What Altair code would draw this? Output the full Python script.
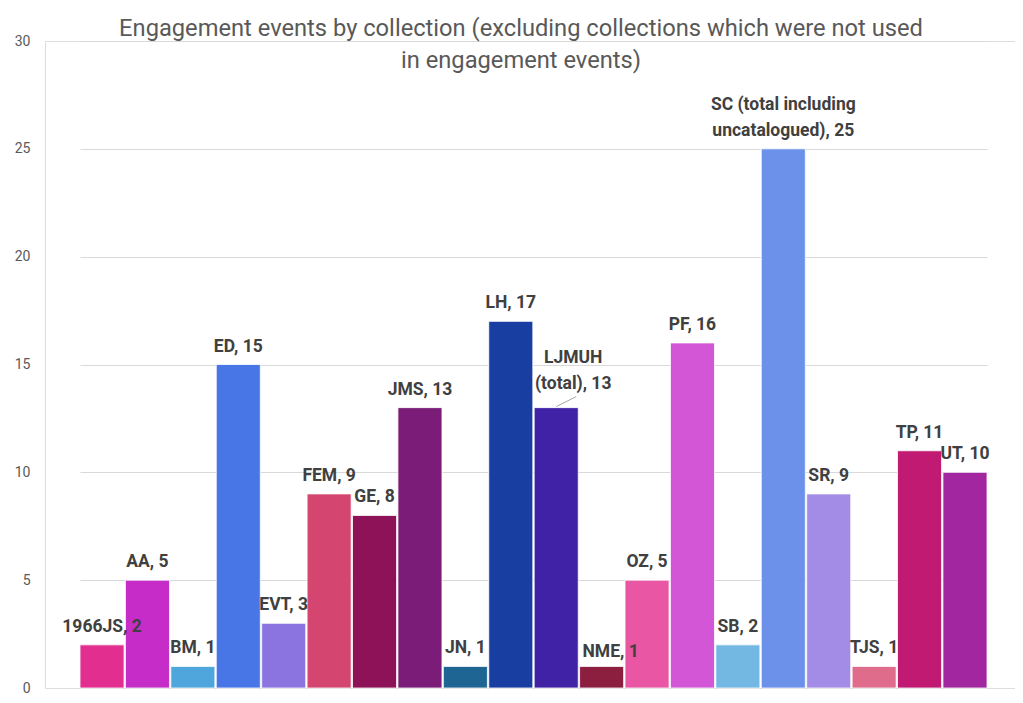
import altair as alt
import pandas as pd

categories = ["1966JS", "AA", "BM", "ED", "EVT", "FEM", "GE", "JMS", "JN", "LH",
              "LJMUH", "NME", "OZ", "PF", "SB", "SC", "SR", "TJS", "TP", "UT"]
values = [2, 5, 1, 15, 3, 9, 8, 13, 1, 17, 13, 1, 5, 16, 2, 25, 9, 1, 11, 10]
labels = ["1966JS, 2", "AA, 5", "BM, 1", "ED, 15", "EVT, 3", "FEM, 9", "GE, 8",
          "JMS, 13", "JN, 1", "LH, 17", "LJMUH\n(total), 13", "NME, 1", "OZ, 5",
          "PF, 16", "SB, 2", "SC (total including\nuncatalogued), 25", "SR, 9",
          "TJS, 1", "TP, 11", "UT, 10"]
colors = ["#E22E8F", "#C62DC8", "#4EA6DC", "#4876E6", "#8B74E0", "#D4466F",
          "#8E1257", "#7A1C78", "#1E6594", "#173EA0", "#4022A6", "#8C1E40",
          "#E957A4", "#D356D6", "#72B8E2", "#6B91EA", "#A28CE6", "#E06C8C",
          "#C11A72", "#A126A0"]
title_lines = ["Engagement events by collection (excluding collections which were not used",
               "in engagement events)"]
y_ticks = [0, 5, 10, 15, 20, 25, 30]

df = pd.DataFrame({"cat": categories, "value": values, "label": labels, "color": colors})

xenc = alt.X("cat:N", sort=categories,
             scale=alt.Scale(range=[35, 942], paddingInner=0.03, paddingOuter=0),
             axis=alt.Axis(title=None, labels=False, ticks=False, domain=True,
                           domainColor="#D9D9D9", domainWidth=1, grid=False))
yenc = alt.Y("value:Q", scale=alt.Scale(domain=[0, 30], nice=False),
             axis=alt.Axis(title=None, values=y_ticks, domain=False, ticks=False,
                           grid=True, gridColor="#D9D9D9", gridWidth=1,
                           labelColor="#595959", labelFontSize=14, labelPadding=15,
                           labelFont="Roboto"))

base = alt.Chart(df)

bars = base.mark_bar(stroke="white", strokeWidth=0.8).encode(
    x=xenc, y=yenc, color=alt.Color("color:N", scale=None)
)

label_style = dict(font="Roboto", fontSize=17.5, fontWeight="bold", color="#404040",
                   baseline="bottom", lineHeight=26, lineBreak="\n")

xs = alt.X("cat:N", sort=categories)

normal = base.transform_filter(
    "datum.cat != 'LJMUH' && datum.cat != 'NME' && datum.cat != 'SC'"
).mark_text(dy=-9, **label_style).encode(x=xs, y="value:Q", text="label:N")

sc = base.transform_filter("datum.cat == 'SC'").mark_text(
    dy=-35, **label_style).encode(x=xs, y="value:Q", text="label:N")

ljm = base.transform_filter("datum.cat == 'LJMUH'").mark_text(
    dy=-41, dx=17, **label_style).encode(x=xs, y="value:Q", text="label:N")

nme = base.transform_filter("datum.cat == 'NME'").mark_text(
    dy=-5, dx=9, **label_style).encode(x=xs, y="value:Q", text="label:N")

leader = base.transform_filter("datum.cat == 'LJMUH'").mark_rule(
    color="#A6A6A6", strokeWidth=1, yOffset=-1, y2Offset=-11, x2Offset=20
).encode(x=xs, x2="cat:N", y="value:Q", y2="value:Q")

chart = alt.layer(bars, leader, normal, sc, ljm, nme).properties(
    width=970, height=647,
    padding={"left": 37, "top": 33, "right": 0, "bottom": 10},
    autosize=alt.AutoSizeParams(type="none"),
    title=alt.TitleParams(text=title_lines, font="Roboto",
                          fontSize=23.7, fontWeight="normal", color="#595959",
                          anchor="middle", frame="group", offset=-39, lineHeight=32, dx=-9),
).configure_view(stroke=None).configure(background="white")

chart.save("out.html", embed_options={"renderer": "svg", "actions": False})
